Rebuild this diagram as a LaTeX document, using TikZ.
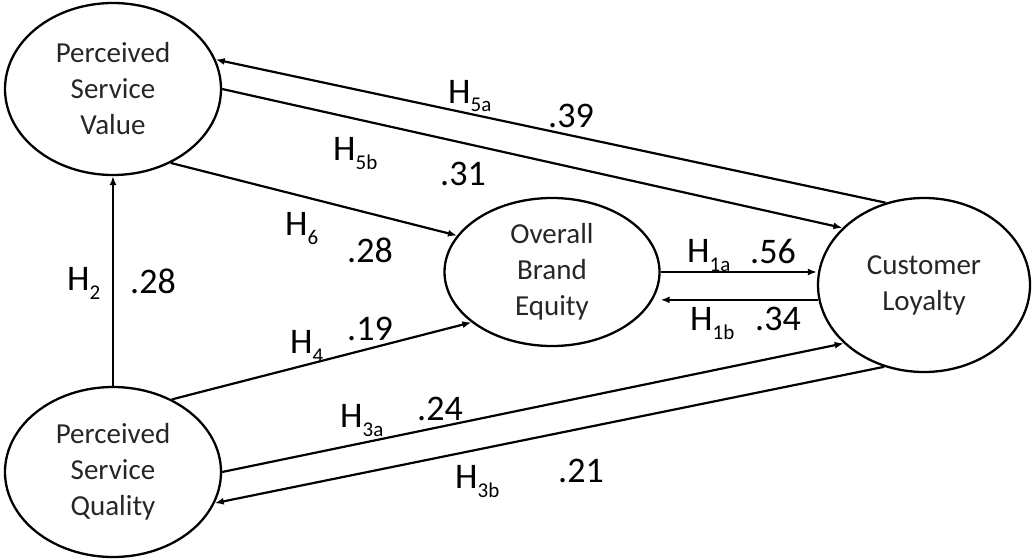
\documentclass[tikz,border=0pt]{standalone}
\usepackage{fontspec}
\setmainfont{Carlito}
\usetikzlibrary{arrows.meta,shapes.geometric}
\newcommand{\Hs}[1]{H\raisebox{-9pt}{\fontsize{21}{21}\selectfont #1}}
\begin{document}
\begin{tikzpicture}[x=1pt,y=-1pt,
  lat/.style={draw, ellipse, line width=2.3pt, inner sep=0pt, align=center, text=black!85,
              font=\fontsize{29}{36}\selectfont},
  arr/.style={line width=2.2pt, -{Latex[length=9pt,width=7pt]}},
  lbl/.style={font=\fontsize{36}{36}\selectfont, anchor=base west, inner sep=0pt},
]
\useasboundingbox (0,0) rectangle (1032,559);
\node[lat, minimum width=216pt, minimum height=172pt] (psv) at (113,89) {Perceived\\Service\\Value};
\node[lat, minimum width=216pt, minimum height=170pt] (psq) at (113,472) {Perceived\\Service\\Quality};
\node[lat, minimum width=215pt, minimum height=148pt] (obe) at (552,272) {Overall\\Brand\\Equity};
\node[lat, minimum width=212pt, minimum height=174pt] (cl) at (924,285) {Customer\\Loyalty};

\draw[arr] (cl.115.4) -- (psv.16.6);
\draw[arr] (psv.-0.5) -- (cl.145.4);
\draw[arr] (psv.-52) -- (obe.159.6);
\draw[arr] (psq.90) -- (psv.-90);
\draw[arr] (psq.51.6) -- (obe.212.7);
\draw[arr] (obe.east) -- (obe.east -| cl.west);
\draw[arr] (cl.188.2) -- (cl.188.2 -| obe.east);
\draw[arr] (psq.0) -- (cl.216.3);
\draw[arr] (cl.244) -- (psq.-17.6);

\node[lbl] (l5a) at (448,103) {\Hs{5a}};
\node[lbl] (v5a) at (548,127) {.39};
\node[lbl] (l5b) at (333,160) {\Hs{5b}};
\node[lbl] (v5b) at (440,185) {.31};
\node[lbl] (l6) at (285,235) {\Hs{6}};
\node[lbl] (v6) at (347,262) {.28};
\node[lbl] (l2) at (67,290) {\Hs{2}};
\node[lbl] (v2) at (130,293) {.28};
\node[lbl] (l4) at (290,353) {\Hs{4}};
\node[lbl] (v4) at (347,340) {.19};
\node[lbl] (l1a) at (687,262) {\Hs{1a}};
\node[lbl] (v1a) at (750,263) {.56};
\node[lbl] (l1b) at (690,330) {\Hs{1b}};
\node[lbl] (v1b) at (755,330) {.34};
\node[lbl] (l3a) at (340,427) {\Hs{3a}};
\node[lbl] (v3a) at (417,420) {.24};
\node[lbl] (l3b) at (455,488) {\Hs{3b}};
\node[lbl] (v3b) at (558,482) {.21};
\end{tikzpicture}
\end{document}
